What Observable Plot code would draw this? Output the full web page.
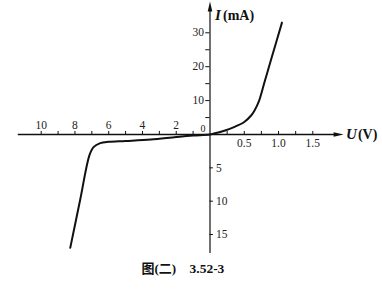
<!DOCTYPE html>
<html>
<head>
<meta charset="utf-8">
<script src="https://cdn.jsdelivr.net/npm/d3@7"></script>
<script src="https://cdn.jsdelivr.net/npm/@observablehq/plot@0.6"></script>
<style>
  html, body { margin: 0; padding: 0; background: #fff; }
  svg { display: block; }
</style>
</head>
<body>
<div id="chart"></div>
<script>
// Reverse branch (U in V, I in mA; negative side)
const reverseU = [-8.28, -7.7, -7.14, -6.9, -6.5, -6.0, -5.0, -3.5, -2.0, -1.0, 0];
const reverseI = [-17.0, -9.9, -3.1, -1.9, -1.3, -1.1, -0.97, -0.75, -0.37, -0.15, 0];
// Forward branch
const forwardU = [0, 0.1, 0.22, 0.35, 0.5, 0.6, 0.65, 0.71, 0.8, 0.9, 1.05];
const forwardI = [0, 0.5, 1.2, 2.2, 3.7, 5.6, 7.1, 9.6, 15.8, 22.7, 33.0];

// Axis ticks and labels
const xNegTicks = [-1, -2, -3, -4, -5, -6, -7, -8, -9, -10];
const xNegLabels = [-2, -4, -6, -8, -10];
const xNegLabelText = ["2", "4", "6", "8", "10"];
const xPosTicks = [0.25, 0.5, 0.75, 1.0, 1.25, 1.5];
const xPosLabels = [0.5, 1.0, 1.5];
const xPosLabelText = ["0.5", "1.0", "1.5"];
const yPosTicks = [5, 10, 15, 20, 25, 30];
const yPosLabels = [10, 20, 30];
const yPosLabelText = ["10", "20", "30"];
const yNegTicks = [-5, -10, -15];
const yNegLabelText = ["5", "10", "15"];

const xTitleVar = "U", xTitleUnit = "(V)";
const yTitleVar = "I", yTitleUnit = "(mA)";
const captionA = "图(二)", captionB = "3.52-3";

const curve = [
  ...d3.zip(reverseU, reverseI).map(([u, i]) => ({u, i})),
  ...d3.zip(forwardU, forwardI).slice(1).map(([u, i]) => ({u, i}))
];

const serif = "Liberation Serif, DejaVu Serif, serif";
const cjk = "Liberation Serif, Noto Sans CJK SC, serif";
const arrowHead = {
  draw(ctx) {
    ctx.moveTo(0, 0);
    ctx.lineTo(2.3, 10);
    ctx.lineTo(-2.3, 10);
    ctx.closePath();
  }
};
const lab = {fontSize: 11.5, fill: "#222", fontFamily: serif};

const chart = Plot.plot({
  width: 382,
  height: 292,
  margin: 0,
  style: {background: "#fff", fontFamily: serif},
  x: {type: "linear", domain: [-10, 0, 1.5], range: [40.7, 209.5, 312.3], axis: null},
  y: {type: "linear", domain: [-15, 0, 30], range: [234, 134, 32.3], axis: null},
  marks: [
    // axes
    Plot.ruleY([0], {x1: -11.36, x2: 1.85, stroke: "#111", strokeWidth: 1.4}),
    Plot.ruleX([0], {y1: -17.85, y2: 37.5, stroke: "#111", strokeWidth: 1.2}),
    Plot.dot([{x: 1.95, y: 0}], {x: "x", y: "y", symbol: arrowHead, rotate: 90, fill: "#111", stroke: null}),
    Plot.dot([{x: 0, y: 39.2}], {x: "x", y: "y", symbol: arrowHead, rotate: 0, fill: "#111", stroke: null}),
    // ticks
    Plot.ruleX(xNegTicks, {x: d => d, y1: 0, y2: 0.9, stroke: "#111", strokeWidth: 1}),
    Plot.ruleX(xPosTicks, {x: d => d, y1: 0, y2: 0.9, stroke: "#111", strokeWidth: 1}),
    Plot.ruleY(yPosTicks, {y: d => d, x1: -0.25, x2: 0, stroke: "#111", strokeWidth: 1}),
    Plot.ruleY(yNegTicks, {y: d => d, x1: 0, x2: 0.05, stroke: "#111", strokeWidth: 1}),
    // tick labels
    Plot.text(xNegLabels, {x: d => d, y: 0, text: (d, i) => xNegLabelText[i], dy: -9, ...lab}),
    Plot.text(xPosLabels, {x: d => d, y: 0, text: (d, i) => xPosLabelText[i], dy: 9, letterSpacing: 0.8, ...lab}),
    Plot.text(yPosLabels, {x: 0, y: d => d, text: (d, i) => yPosLabelText[i], dx: -6, textAnchor: "end", ...lab}),
    Plot.text(yNegTicks, {x: 0, y: d => d, text: (d, i) => yNegLabelText[i], dx: 6, textAnchor: "start", ...lab}),
    Plot.text(["0"], {x: 0, y: 0, dx: -7, dy: -6, ...lab, fontSize: 10}),
    // axis titles
    Plot.text([xTitleVar], {x: 1.94, y: 0, dx: 3, textAnchor: "start", fontSize: 15, fontWeight: "bold", fontStyle: "italic", fill: "#111", fontFamily: serif}),
    Plot.text([xTitleUnit], {x: 1.94, y: 0, dx: 15, textAnchor: "start", fontSize: 14, fontWeight: "bold", fill: "#111", fontFamily: serif, letterSpacing: 1}),
    Plot.text([yTitleVar], {x: 0, y: 37.5, dx: 5, dy: 8, textAnchor: "start", fontSize: 15, fontWeight: "bold", fontStyle: "italic", fill: "#111", fontFamily: serif}),
    Plot.text([yTitleUnit], {x: 0, y: 37.5, dx: 13, dy: 8, textAnchor: "start", fontSize: 14, fontWeight: "bold", fill: "#111", fontFamily: serif, letterSpacing: 1.5}),
    // curve
    Plot.line(curve, {x: "u", y: "i", curve: "catmull-rom", stroke: "#111", strokeWidth: 2}),
    // caption
    Plot.text([captionA], {frameAnchor: "bottom-left", dx: 141, dy: -20, textAnchor: "start", fontSize: 13, fontWeight: "bold", fill: "#111", fontFamily: cjk}),
    Plot.text([captionB], {frameAnchor: "bottom-left", dx: 189, dy: -20, textAnchor: "start", fontSize: 13.5, fontWeight: "bold", fill: "#111", fontFamily: serif, letterSpacing: 1.2})
  ]
});
document.getElementById("chart").appendChild(chart);
</script>
</body>
</html>
